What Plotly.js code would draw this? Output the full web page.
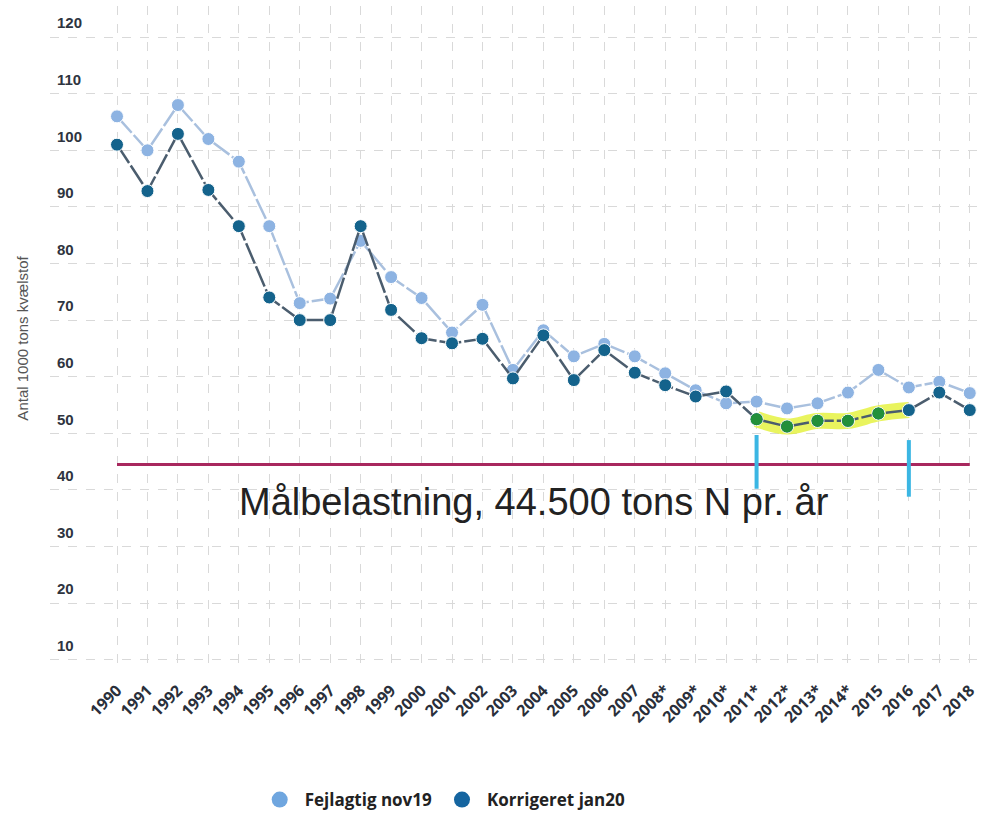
<!DOCTYPE html>
<html>
<head>
<meta charset="utf-8">
<script src="https://cdn.plot.ly/plotly-3.0.1.min.js"></script>
<style>html,body{margin:0;padding:0;background:#fff;}#chart{width:986px;height:813px;}</style>
</head>
<body>
<div id="chart"></div>
<script>
// ---- Data ----
var years = ['1990','1991','1992','1993','1994','1995','1996','1997','1998','1999',
             '2000','2001','2002','2003','2004','2005','2006','2007','2008*','2009*',
             '2010*','2011*','2012*','2013*','2014*','2015','2016','2017','2018'];
var fejlagtigNov19 = [106, 100, 108, 102, 98, 86.6, 73, 73.8, 84, 77.6,
                      73.9, 67.8, 72.7, 61.2, 68.2, 63.6, 65.8, 63.6, 60.6, 57.6,
                      55.3, 55.6, 54.4, 55.3, 57.2, 61.2, 58.1, 59.1, 57.1];
var korrigeretJan20 = [101, 92.8, 102.9, 93, 86.6, 74, 70, 70, 86.6, 71.8,
                       66.8, 65.9, 66.7, 59.7, 67.3, 59.4, 64.7, 60.7, 58.5, 56.5,
                       57.4, 52.5, 51.2, 52.2, 52.2, 53.5, 54.1, 57.2, 54.1];
var targetValue = 44.5;
var targetLabel = 'Målbelastning, 44.500 tons N pr. år';
var highlightYears = ['2011*','2012*','2013*','2014*','2015','2016'];
var greenYears = ['2011*','2012*','2013*','2014*','2015'];
var penMarkYears = ['2011*','2016'];
var penMarkTop = [49.7, 48.8];
var penMarkBottom = [40.2, 38.8];
var seriesNames = ['Fejlagtig nov19', 'Korrigeret jan20'];
var yTicks = [10,20,30,40,50,60,70,80,90,100,110,120];
var yTitle = 'Antal 1000 tons kvælstof';

// ---- helpers ----
function valuesFor(sel, src){ return sel.map(function(y){ return src[years.indexOf(y)]; }); }

var traces = [];
// light series
traces.push({
  x: years, y: fejlagtigNov19, type: 'scatter', mode: 'lines+markers', showlegend: false,
  line: {color: '#a9c0de', width: 2.5, dash: '22px,3px'},
  marker: {color: '#8db3e2', size: 13, line: {color: '#ffffff', width: 1}}
});
// yellow highlighter
traces.push({
  x: highlightYears, y: valuesFor(highlightYears, korrigeretJan20), type: 'scatter', mode: 'lines',
  showlegend: false, hoverinfo: 'skip',
  line: {color: 'rgba(226,240,40,0.75)', width: 16, shape: 'spline'}
});
// dark series
traces.push({
  x: years, y: korrigeretJan20, type: 'scatter', mode: 'lines+markers', showlegend: false,
  line: {color: '#4b5d6e', width: 2.5, dash: '22px,3px'},
  marker: {color: '#14638c', size: 13, line: {color: '#ffffff', width: 1}}
});
// green (highlighted) markers
traces.push({
  x: greenYears, y: valuesFor(greenYears, korrigeretJan20), type: 'scatter', mode: 'markers',
  showlegend: false, hoverinfo: 'skip',
  marker: {color: '#23903a', size: 12}
});
// target line
traces.push({
  x: years, y: years.map(function(){ return targetValue; }), type: 'scatter', mode: 'lines',
  showlegend: false, hoverinfo: 'skip',
  line: {color: '#a8285e', width: 3}
});
// pen marks
penMarkYears.forEach(function(yr, i){
  traces.push({
    x: [yr, yr], y: [penMarkTop[i], penMarkBottom[i]], type: 'scatter', mode: 'lines',
    showlegend: false, hoverinfo: 'skip',
    line: {color: '#3bb6e3', width: 4}
  });
});
// legend-only traces (circles only)
traces.push({x: [null], y: [null], type: 'scatter', mode: 'markers', name: seriesNames[0],
  marker: {color: '#6fa6df', size: 18}});
traces.push({x: [null], y: [null], type: 'scatter', mode: 'markers', name: seriesNames[1],
  marker: {color: '#1565a0', size: 18}});

var layout = {
  width: 986, height: 813,
  margin: {l: 50, r: 1, t: 6, b: 142, autoexpand: false},
  paper_bgcolor: '#ffffff', plot_bgcolor: '#ffffff',
  font: {family: 'Liberation Sans, Arial, sans-serif', color: '#333'},
  xaxis: {
    type: 'category', categoryorder: 'array', categoryarray: years,
    range: [-2.2, 28.5], automargin: false,
    tickangle: -45, ticklabelstandoff: 6,
    tickfont: {family: 'Open Sans, sans-serif', size: 16, color: '#2a2f3a', weight: 'bold'},
    showgrid: true, gridcolor: '#d9d9d9', griddash: 'dash', gridwidth: 1,
    showline: false, zeroline: false, ticks: ''
  },
  yaxis: {
    range: [8, 125.5], automargin: false,
    tickvals: yTicks,
    ticklabelposition: 'inside', ticklabelshift: -14, ticklabelstandoff: 4,
    tickfont: {family: 'Liberation Sans, Arial, sans-serif', size: 15, color: '#2e3440', weight: 'bold'},
    showgrid: true, gridcolor: '#d9d9d9', griddash: 'dash', gridwidth: 1,
    showline: false, zeroline: false, ticks: '',
    title: {text: yTitle, font: {size: 15, color: '#555'}, standoff: 24}
  },
  annotations: [{
    text: targetLabel, xref: 'x', yref: 'y', x: 13.7, y: 37.8,
    showarrow: false, font: {family: 'Liberation Sans, Arial, sans-serif', size: 38, color: '#222'}
  }],
  legend: {
    orientation: 'h', x: 0.42, xanchor: 'center', yref: 'container', y: 0.016, yanchor: 'middle',
    font: {family: 'Open Sans, sans-serif', size: 17, color: '#222', weight: 'bold'},
    itemwidth: 40, itemclick: false
  }
};

Plotly.newPlot('chart', traces, layout, {displayModeBar: false, staticPlot: true});
</script>
</body>
</html>
